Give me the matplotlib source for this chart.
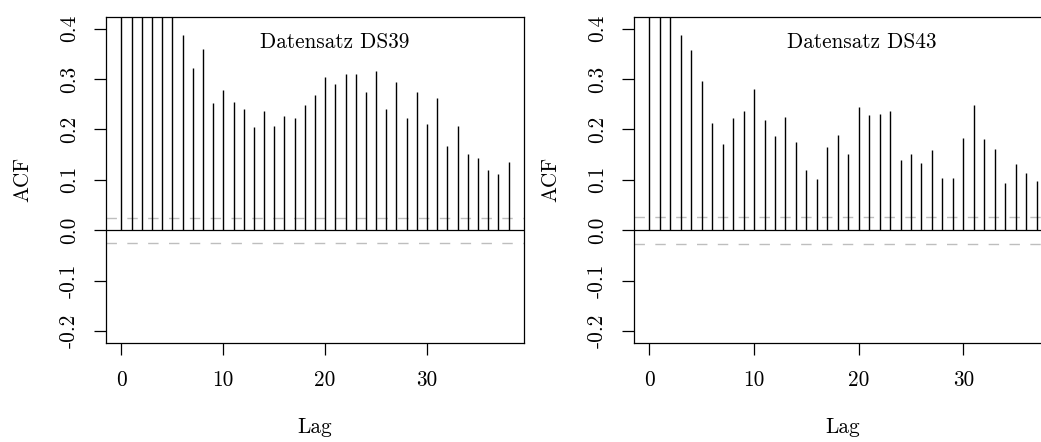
import numpy as np
import matplotlib
matplotlib.use("Agg")
import matplotlib.pyplot as plt

plt.rcParams['font.family'] = 'cmr10'
plt.rcParams['axes.unicode_minus'] = False
plt.rcParams['lines.scale_dashes'] = False

# ACF values (lags hidden above the box are guesses)
acf_ds39 = [1.00, 0.62, 0.55, 0.50, 0.46, 0.43, 0.387, 0.322, 0.360, 0.253,
            0.279, 0.255, 0.241, 0.204, 0.237, 0.206, 0.226, 0.223, 0.249, 0.269,
            0.304, 0.290, 0.310, 0.311, 0.275, 0.317, 0.240, 0.295, 0.223, 0.274,
            0.210, 0.262, 0.168, 0.206, 0.151, 0.144, 0.120, 0.112, 0.135]
acf_ds43 = [1.00, 0.55, 0.45, 0.387, 0.357, 0.296, 0.212, 0.171, 0.223, 0.237,
            0.281, 0.219, 0.187, 0.225, 0.176, 0.120, 0.102, 0.165, 0.190, 0.152,
            0.245, 0.228, 0.230, 0.237, 0.140, 0.152, 0.134, 0.159, 0.103, 0.103,
            0.183, 0.249, 0.182, 0.161, 0.093, 0.131, 0.114, 0.098]
ci_ds39 = 0.0248
ci_ds43 = 0.027

titles = ["Datensatz DS39", "Datensatz DS43"]
yticks = [-0.2, -0.1, 0.0, 0.1, 0.2, 0.3, 0.4]
ytick_labels = ["-0.2", "-0.1", "0.0", "0.1", "0.2", "0.3", "0.4"]
xticks = [0, 10, 20, 30]

W, H = 1041, 442
fig = plt.figure(figsize=(W/100, H/100), dpi=100)

fs = 15.3
boxes = [(106, 418), (634, 418)]   # left edge, width in pixels
top, bottom = 16.7, 343.0

for (x0, bw), acf, ci, title in zip(boxes, [acf_ds39, acf_ds43], [ci_ds39, ci_ds43], titles):
    ax = fig.add_axes([x0/W, 1 - bottom/H, bw/W, (bottom - top)/H])
    lags = np.arange(len(acf))
    m = lags[-1]
    ax.set_xlim(-0.04*m, m + 0.04*m)
    ax.set_ylim(-0.2 - 0.024, 0.4 + 0.024)

    ax.axhline(ci, color='#bebebe', lw=1.0, ls=(0, (7.5, 7.5)), zorder=1)
    ax.axhline(-ci, color='#bebebe', lw=1.0, ls=(0, (7.5, 7.5)), zorder=1)
    ax.vlines(lags, 0, acf, color='black', lw=1.0, zorder=2)
    ax.axhline(0, color='black', lw=0.9, zorder=3)

    ax.set_yticks(yticks)
    ax.set_yticklabels(ytick_labels, rotation=90, va='center', fontsize=fs)
    ax.set_xticks(xticks)
    ax.set_xticklabels([str(t) for t in xticks], fontsize=fs)
    ax.tick_params(axis='both', direction='out', length=8.5, width=0.9, pad=11)

    for s in ax.spines.values():
        s.set_linewidth(0.9)

    ax.set_xlabel("Lag", fontsize=fs)
    ax.set_ylabel("ACF", fontsize=fs)
    ax.xaxis.set_label_coords(0.5, -84/(bottom - top))
    ax.xaxis.label.set_va('center')
    ax.yaxis.set_label_coords(-83/bw, 0.5)
    ax.yaxis.label.set_ha('center')
    ax.yaxis.label.set_va('center')

    ax.text(0.546, 0.904, title, transform=ax.transAxes, ha='center',
            va='baseline', fontsize=fs)

fig.savefig("out.png", dpi=100)
